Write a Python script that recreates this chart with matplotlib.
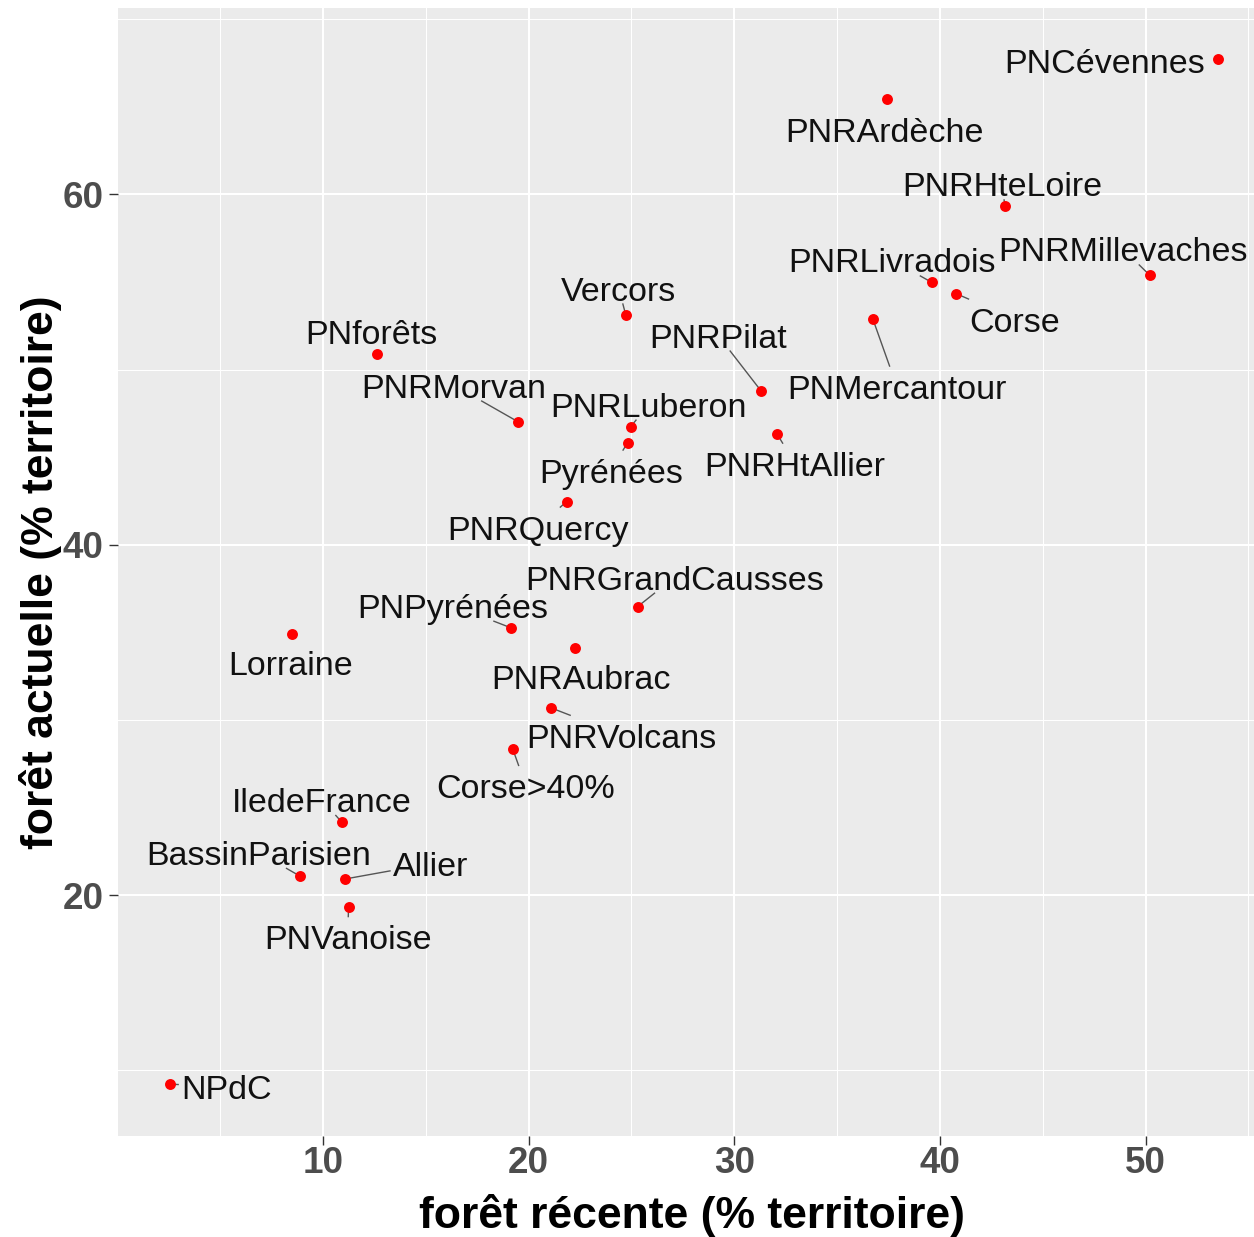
import matplotlib
matplotlib.use("Agg")
import matplotlib.pyplot as plt
import numpy as np

# ---- data ----
names = ["PNCévennes", "PNRArdèche", "PNRHteLoire", "PNRMillevaches", "PNRLivradois",
         "Corse", "PNMercantour", "Vercors", "PNforêts", "PNRPilat", "PNRMorvan",
         "PNRLuberon", "Pyrénées", "PNRHtAllier", "PNRQuercy", "PNRGrandCausses",
         "PNPyrénées", "Lorraine", "PNRAubrac", "PNRVolcans", "Corse>40%",
         "IledeFrance", "BassinParisien", "Allier", "PNVanoise", "NPdC"]
foret_recente = [53.52, 37.42, 43.16, 50.21, 39.61,
                 40.77, 36.73, 24.72, 12.61, 31.29, 19.47,
                 24.97, 24.82, 32.07, 21.85, 25.30,
                 19.13, 8.48, 22.24, 21.08, 19.23,
                 10.91, 8.87, 11.06, 11.25, 2.59]
foret_actuelle = [67.71, 65.43, 59.31, 55.37, 54.97,
                  54.34, 52.91, 53.14, 50.91, 48.80, 47.03,
                  46.74, 45.83, 46.34, 42.46, 36.46,
                  35.26, 34.91, 34.11, 30.69, 28.34,
                  24.17, 21.09, 20.91, 19.31, 9.20]
x_ticks = [10, 20, 30, 40, 50]
y_ticks = [20, 40, 60]

# label placement (pixel offsets of label centre / baseline from each point)
label_dx = [-113, -2, -3, -27, -40, 59, 24, -7, -5, -43, -64, 18, -17, 18, -29, 37,
            -58, -1, 6, 71, 13, -20, -41, 86, -1, 56]
label_dy = [-14, -43, 10, 14, 10, -38, -80, 14, 10, 43, 24, 10, -40, -42, -38, 17,
            10, -41, -41, -40, -49, 10, 11, 3, -42, -15]
# whether a leader segment is drawn (repel style)
show_segment = [False, False, True, True, True, True, True, True, False, True, True,
                True, True, True, True, True, True, False, False, True, True,
                True, True, True, True, True]

W, H, DPI = 1254, 1237, 100
fig = plt.figure(figsize=(W / DPI, H / DPI), dpi=DPI)
fig.patch.set_facecolor("white")

left_px, right_px, top_px, bottom_px = 118, 1270.5, 8, 1135.5
ax = fig.add_axes([left_px / W, 1 - bottom_px / H, (right_px - left_px) / W,
                   (bottom_px - top_px) / H])
ax.set_facecolor("#EBEBEB")
for s in ax.spines.values():
    s.set_visible(False)

ax.set_xlim(0.04, 56.07)
ax.set_ylim(6.27, 70.64)

ax.set_xticks(x_ticks)
ax.set_yticks(y_ticks)
ax.set_xticks([5, 15, 25, 35, 45, 55], minor=True)
ax.set_yticks([10, 30, 50, 70], minor=True)
ax.grid(which="major", color="white", linewidth=1.5)
ax.grid(which="minor", color="white", linewidth=0.75)
ax.set_axisbelow(True)
ax.tick_params(which="minor", length=0)
ax.tick_params(which="major", length=6.5, width=1.0, color="#333333",
               labelcolor="#4D4D4D", labelsize=26.5)
ax.tick_params(axis="x", pad=1)
ax.tick_params(axis="y", pad=4)
for lab in ax.get_xticklabels() + ax.get_yticklabels():
    lab.set_fontweight("bold")
    lab.set_fontfamily("Liberation Sans")

ax.scatter(foret_recente, foret_actuelle, s=62, color="#FF0000", zorder=4,
           linewidths=0)

texts = []
for n, x, y, dx, dy in zip(names, foret_recente, foret_actuelle, label_dx, label_dy):
    t = ax.annotate(n, (x, y), xytext=(dx, dy), textcoords="offset pixels",
                    ha="center", va="baseline", fontsize=24.5,
                    fontfamily="Liberation Sans", color="#111111", zorder=5)
    texts.append(t)

ax.set_xlabel("forêt récente (% territoire)", fontsize=32, fontweight="bold",
              fontfamily="Liberation Sans", labelpad=2)
ax.set_ylabel("forêt actuelle (% territoire)", fontsize=32, fontweight="bold",
              fontfamily="Liberation Sans", labelpad=0)
ax.xaxis.set_label_coords((692 - left_px) / (right_px - left_px),
                          -(1228 - bottom_px) / (bottom_px - top_px))
ax.xaxis.label.set_va("baseline")

# segments: from point toward label centre, clipped at the label box
fig.canvas.draw()
renderer = fig.canvas.get_renderer()
inv = ax.transData.inverted()
for t, x, y, dy, show in zip(texts, foret_recente, foret_actuelle, label_dy,
                             show_segment):
    if not show:
        continue
    bb = t.get_window_extent(renderer)
    px, py = ax.transData.transform((x, y))
    base = py + dy
    bx0, bx1 = bb.x0 - 3, bb.x1 + 3
    by0, by1 = base - 3.5, base + 32.5
    cx, cy = (bx0 + bx1) / 2, base + 12.5
    vx, vy = cx - px, cy - py
    # find the entry parameter of the ray into the box
    ts = []
    for (p, v, lo, hi) in ((px, vx, bx0, bx1), (py, vy, by0, by1)):
        if abs(v) < 1e-9:
            ts.append(0.0)
        else:
            t1, t2 = (lo - p) / v, (hi - p) / v
            ts.append(min(t1, t2))
    tt = max(0.0, max(ts))
    qx, qy = px + vx * tt, py + vy * tt
    (x0, y0), (x1, y1) = inv.transform([(px, py), (qx, qy)])
    ax.plot([x0, x1], [y0, y1], color="#555555", linewidth=1.0, zorder=3)

fig.savefig("out.png", dpi=DPI, facecolor="white")
